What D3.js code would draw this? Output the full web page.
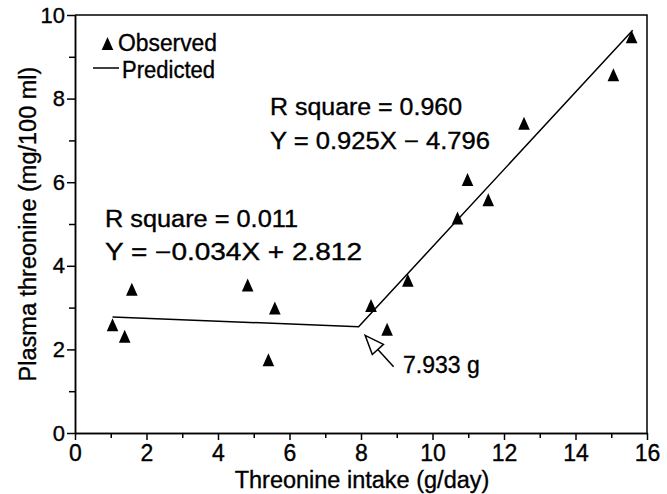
<!DOCTYPE html>
<html><head><meta charset="utf-8">
<script src="https://cdn.jsdelivr.net/npm/d3@7/dist/d3.min.js"></script>
<style>
body{margin:0;background:#fff;}
svg text{font-family:"Liberation Sans",Arial,Helvetica,sans-serif;fill:#000;stroke:#000;stroke-width:0.35px;}
</style></head><body>
<svg id="c" width="667" height="494"></svg>
<script>
// Observed data
const obsX = [1.05, 1.39, 1.59, 4.83, 5.41, 5.59, 8.28, 8.73, 9.31, 10.70, 10.98, 11.56, 12.56, 15.06, 15.57];
const obsY = [2.58, 2.30, 3.43, 3.53, 1.74, 2.98, 3.04, 2.47, 3.64, 5.13, 6.05, 5.57, 7.40, 8.56, 9.47];
// Predicted (broken-line) model
const predX = [1.05, 7.933, 15.6];
const predY = [2.776, 2.542, 9.634];
// Ticks
const xMajor = [0, 2, 4, 6, 8, 10, 12, 14, 16];
const xMinor = [1, 3, 5, 7, 9, 11, 13, 15];
const yMajor = [0, 2, 4, 6, 8, 10];
const yMinor = [1, 3, 5, 7, 9];
// Texts
const xTitle = "Threonine intake (g/day)";
const yTitle = "Plasma threonine (mg/100 ml)";
const legendLabels = ["Observed", "Predicted"];
const annot1 = ["R square = 0.960", "Y = 0.925X \u2212 4.796"];
const annot2 = ["R square = 0.011", "Y = \u22120.034X + 2.812"];
const breakLabel = "7.933 g";

const svg = d3.select("#c");
svg.append("rect").attr("width",667).attr("height",494).attr("fill","#fff");
const L=75,R=647,T=15,B=433;
const x = d3.scaleLinear().domain([0,16]).range([L,R]);
const y = d3.scaleLinear().domain([0,10]).range([B,T]);

// frame top & right
svg.append("path").attr("d",`M${L},${T}H${R}V${B}`).attr("fill","none").attr("stroke","#000").attr("stroke-width",1.5);

// axes
const gx = svg.append("g").attr("transform",`translate(0,${B})`)
  .call(d3.axisBottom(x).tickValues(xMajor).tickSize(7).tickSizeOuter(0).tickPadding(5).tickFormat(d3.format("d")));
const gxm = svg.append("g").attr("transform",`translate(0,${B})`)
  .call(d3.axisBottom(x).tickValues(xMinor).tickSize(5).tickSizeOuter(0).tickFormat(""));
const gy = svg.append("g").attr("transform",`translate(${L},0)`)
  .call(d3.axisLeft(y).tickValues(yMajor).tickSize(8).tickSizeOuter(0).tickPadding(2).tickFormat(d3.format("d")));
const gym = svg.append("g").attr("transform",`translate(${L},0)`)
  .call(d3.axisLeft(y).tickValues(yMinor).tickSize(6).tickSizeOuter(0).tickFormat(""));
[gx,gxm,gy,gym].forEach(g=>{
  g.selectAll("path,line").attr("stroke","#000").attr("stroke-width",1.5);
  g.selectAll("text").attr("fill","#000").style("font-family",'"Liberation Sans",Arial,sans-serif');
});
gx.selectAll("text").style("font-size","23px");
gy.selectAll("text").style("font-size","22px");

// axis titles
svg.append("text").attr("x",362).attr("y",488).attr("text-anchor","middle").style("font-size","23.5px").text(xTitle);
svg.append("text").attr("transform","translate(36,224) rotate(-90)").attr("text-anchor","middle").style("font-size","23.5px").text(yTitle);

// predicted line
svg.append("path").datum(predX.map((d,i)=>[d,predY[i]]))
  .attr("d",d3.line().x(d=>x(d[0])).y(d=>y(d[1])))
  .attr("fill","none").attr("stroke","#000").attr("stroke-width",1.5);

// triangles
const tri = "M0,-7L5.8,6L-5.8,6Z";
svg.append("g").selectAll("path").data(obsX.map((d,i)=>[d,obsY[i]])).join("path")
  .attr("d",tri).attr("transform",d=>`translate(${x(d[0])},${y(d[1])})`).attr("fill","#000");

// legend
svg.append("path").attr("d",tri).attr("transform","translate(107.5,44)").attr("fill","#000");
svg.append("text").attr("x",118).attr("y",51).style("font-size","23px").attr("textLength",99).attr("lengthAdjust","spacingAndGlyphs").text(legendLabels[0]);
svg.append("line").attr("x1",93).attr("x2",119).attr("y1",68).attr("y2",68).attr("stroke","#000").attr("stroke-width",1.5);
svg.append("text").attr("x",122).attr("y",78).style("font-size","23px").attr("textLength",93).attr("lengthAdjust","spacingAndGlyphs").text(legendLabels[1]);

// annotations
function annot(lines, x0, ys, widths){
  lines.forEach((t,i)=>{
    svg.append("text").attr("x",x0).attr("y",ys[i]).style("font-size","23px")
      .style("white-space","pre").attr("textLength",widths[i]).attr("lengthAdjust","spacingAndGlyphs").text(t);
  });
}
annot(annot1, 270, [115,149], [192,220]);
annot(annot2, 105, [227,260], [193,257]);

// arrow to breakpoint
const bx = x(predX[1]), by = y(predY[1]);
const tip=[bx+6.5, by+8.6], tail=[bx+35, by+40];
const dx=tip[0]-tail[0], dy=tip[1]-tail[1], len=Math.hypot(dx,dy), ux=dx/len, uy=dy/len;
const hl=19, hw=7.5;
const base=[tip[0]-ux*hl, tip[1]-uy*hl];
const p1=[base[0]-uy*hw, base[1]+ux*hw], p2=[base[0]+uy*hw, base[1]-ux*hw];
svg.append("line").attr("x1",tail[0]).attr("y1",tail[1]).attr("x2",base[0]).attr("y2",base[1]).attr("stroke","#000").attr("stroke-width",1.5);
svg.append("path").attr("d",`M${tip}L${p1}L${p2}Z`).attr("fill","#fff").attr("stroke","#000").attr("stroke-width",1.5);
svg.append("text").attr("x",403).attr("y",373).style("font-size","23px").text(breakLabel);
</script>
</body></html>
